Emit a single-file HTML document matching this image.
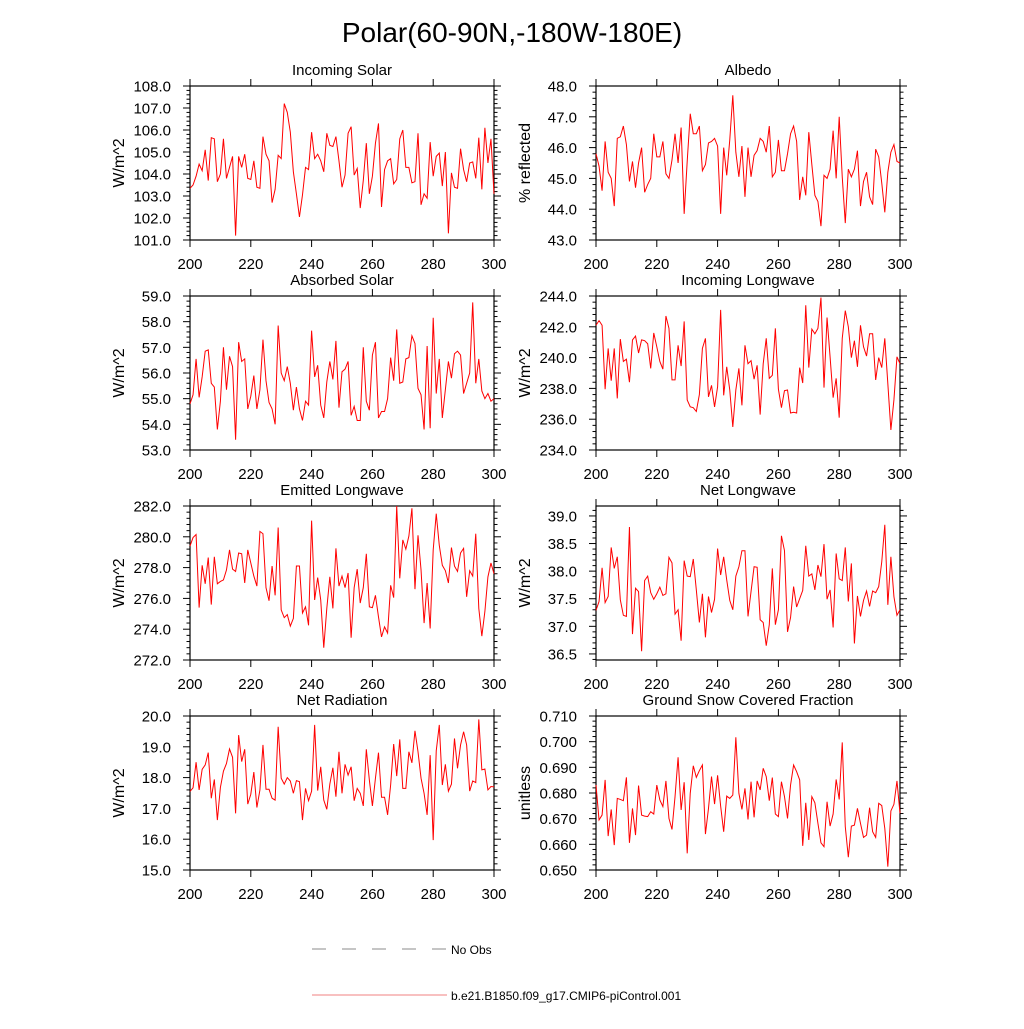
<!DOCTYPE html>
<html><head><meta charset="utf-8"><style>
html,body{margin:0;padding:0;background:#fff;}
svg text{font-family:"Liberation Sans",sans-serif;fill:#000;}
</style></head><body>
<svg id="chart" width="1024" height="1024" viewBox="0 0 1024 1024" xmlns="http://www.w3.org/2000/svg">
<rect width="1024" height="1024" fill="#fff"/>
<text x="512" y="42" font-size="28" text-anchor="middle">Polar(60-90N,-180W-180E)</text>
<g>
<line x1="312" y1="949" x2="447" y2="949" stroke="#666" stroke-width="0.8" stroke-dasharray="14,16"/>
<text x="451" y="954" font-size="12">No Obs</text>
<line x1="312" y1="995" x2="447" y2="995" stroke="#f08080" stroke-width="1"/>
<text x="451" y="1000" font-size="12">b.e21.B1850.f09_g17.CMIP6-piControl.001</text>
</g>
</svg>
<script>
const years = [];
for (let y = 200; y <= 300; y++) years.push(y);
const xTicks = [200, 220, 240, 260, 280, 300];

const incomingSolar = [103.35,103.5,103.9,104.45,104.15,105.1,103.7,105.65,105.6,103.65,104.0,105.6,103.8,104.3,104.8,101.2,104.8,104.3,104.9,103.8,103.75,104.6,103.4,103.35,105.7,104.9,104.6,102.7,103.3,104.85,104.7,107.2,106.8,105.9,104.1,103.1,102.05,103.05,104.3,104.2,105.9,104.7,104.9,104.6,104.1,105.85,105.3,105.25,105.7,104.6,103.4,103.95,105.85,106.15,103.95,104.25,102.45,103.7,105.4,103.1,103.9,105.4,106.3,102.5,104.2,104.6,104.7,103.55,103.75,105.6,106.0,104.3,104.3,103.6,103.65,105.85,102.6,103.1,102.9,105.45,103.9,104.8,104.95,103.45,105.0,101.3,104.05,103.4,103.35,105.15,104.2,103.65,104.5,104.55,103.8,105.65,103.3,106.1,104.5,105.6,103.1];
const albedo = [45.8,45.4,44.6,46.2,45.2,45.0,44.1,46.3,46.35,46.7,46.1,44.9,45.55,44.7,45.5,46.0,44.55,44.8,45.0,46.45,45.7,45.7,46.2,45.15,45.0,45.6,46.45,45.5,46.65,43.85,45.55,47.1,46.45,46.45,46.7,45.25,45.45,46.15,46.2,46.3,46.05,43.85,46.0,45.1,46.25,47.7,45.85,45.05,46.05,44.4,46.0,45.05,45.75,45.9,46.3,46.2,45.85,46.7,45.05,45.2,46.25,45.25,45.25,45.8,46.45,46.7,46.2,44.3,45.05,44.45,46.5,45.45,44.45,44.25,43.45,45.1,45.0,45.3,46.55,45.0,47.0,45.05,43.55,45.3,45.05,45.3,45.9,44.1,44.9,45.2,44.4,44.15,45.95,45.7,44.85,43.9,45.2,45.85,46.1,45.55,45.5];
const absorbedSolar = [54.8,55.15,56.55,55.05,55.85,56.85,56.9,55.6,55.45,53.8,54.9,57.0,55.35,56.65,56.25,53.4,57.2,56.45,56.55,54.6,55.1,55.9,54.6,55.35,57.3,55.7,54.85,54.6,54.0,57.85,56.0,55.7,56.25,55.6,54.55,55.45,54.6,54.15,54.9,54.75,57.65,55.85,56.3,54.75,54.25,55.65,56.45,55.75,57.25,54.65,56.05,56.15,56.45,54.35,54.7,54.15,54.15,57.0,54.9,54.55,56.7,57.2,54.25,54.5,54.5,55.0,56.6,55.7,57.7,55.6,55.65,56.55,56.6,57.45,57.15,55.4,55.15,53.8,57.05,53.85,58.15,55.2,56.55,54.25,55.35,56.45,55.8,56.75,56.85,56.7,55.2,55.6,56.0,58.75,55.6,56.55,55.3,55.0,55.2,54.9,55.0];
const incomingLongwave = [242.1,242.4,242.1,237.95,240.6,238.5,240.6,237.35,241.2,239.75,239.9,238.4,241.15,241.4,240.3,241.15,241.1,240.9,239.3,241.6,240.7,239.75,239.25,242.7,241.9,238.55,238.55,240.8,239.45,242.35,237.25,236.8,236.75,236.5,237.6,240.6,241.25,237.45,238.2,236.8,238.1,243.1,237.55,239.4,237.9,235.5,237.9,239.3,236.9,240.8,239.6,239.8,238.6,239.5,236.3,239.6,241.25,238.65,238.85,241.9,237.95,236.75,237.85,237.9,236.4,236.45,236.4,239.35,238.35,243.4,239.35,241.85,241.55,241.9,243.9,238.05,242.6,240.05,237.4,238.65,236.1,241.25,243.05,242.0,240.0,241.1,239.4,242.1,240.7,240.1,241.55,241.55,238.55,240.0,239.35,241.25,238.3,235.3,237.25,240.05,239.6];
const emittedLongwave = [279.4,279.95,280.15,275.4,278.15,276.95,278.65,275.6,278.7,276.95,277.1,277.2,277.85,279.15,277.9,277.75,278.95,278.9,277.0,279.15,278.3,277.45,276.8,280.35,280.2,276.7,275.85,278.1,276.2,280.6,275.25,274.75,274.95,274.2,274.7,278.1,278.1,275.05,275.45,274.25,281.05,275.9,277.35,275.9,272.8,275.35,277.4,275.35,279.25,276.8,277.45,276.7,277.65,273.45,276.7,277.9,275.7,276.7,278.9,275.45,275.4,276.2,274.8,273.5,274.15,273.75,276.85,276.05,282.0,277.3,279.8,279.2,280.05,281.85,276.6,280.1,277.85,274.4,277.0,274.05,279.15,281.5,279.45,278.15,277.8,277.0,279.3,278.1,277.75,278.95,279.25,276.1,277.8,277.45,280.2,275.35,273.55,275.15,277.4,278.3,277.6];
const netLongwave = [37.29,37.45,38.06,37.43,37.54,38.43,38.05,38.26,37.48,37.2,37.18,38.8,36.86,37.69,37.63,36.55,37.83,37.91,37.61,37.49,37.59,37.71,37.56,37.59,38.25,38.15,37.22,37.3,36.74,38.19,37.91,37.9,38.22,37.66,37.07,37.59,36.8,37.54,37.25,37.49,38.41,37.93,38.26,37.84,37.47,37.3,37.91,38.08,38.37,38.37,37.18,37.63,38.08,38.07,37.12,37.07,36.65,37.03,38.05,37.03,37.3,38.64,38.37,36.9,37.16,37.72,37.35,37.5,37.65,38.46,37.91,37.95,37.66,38.11,37.9,38.49,37.49,37.66,36.98,38.32,37.86,37.83,38.43,37.45,38.14,36.69,37.55,37.18,37.47,37.64,37.36,37.64,37.61,37.72,38.17,38.84,37.39,38.26,37.54,37.2,37.3];
const netRadiation = [17.55,17.67,18.5,17.6,18.27,18.41,18.81,17.33,17.94,16.62,17.68,18.21,18.46,18.93,18.66,16.84,19.38,18.52,18.92,17.14,17.46,18.18,17.03,17.6,19.06,17.62,17.62,17.33,17.27,19.65,17.98,17.79,18.0,17.89,17.49,17.9,17.87,16.62,17.65,17.25,17.56,19.71,17.58,18.35,17.27,16.97,17.79,18.32,17.38,18.84,17.49,18.43,18.08,18.35,17.25,17.65,17.49,17.08,18.92,17.92,17.08,17.98,18.81,17.36,17.36,16.79,17.76,19.09,18.05,19.24,17.65,17.65,18.84,18.48,19.52,18.84,17.98,17.49,16.79,18.73,15.97,18.87,19.71,17.76,18.43,17.56,17.79,19.27,18.3,19.06,19.49,19.06,17.56,17.89,17.84,19.89,18.25,18.28,17.6,17.71,17.7];
const snowFraction = [0.6831,0.6695,0.6714,0.6851,0.6632,0.6736,0.6597,0.6779,0.6775,0.677,0.6861,0.6606,0.674,0.6636,0.6829,0.6714,0.671,0.6708,0.6727,0.6718,0.6831,0.6773,0.6747,0.6847,0.6701,0.6658,0.6786,0.6939,0.6734,0.6842,0.6565,0.6799,0.6906,0.6861,0.6887,0.6909,0.664,0.674,0.6864,0.6757,0.6869,0.6749,0.6649,0.6788,0.6779,0.6792,0.7017,0.6799,0.6736,0.6818,0.6697,0.6844,0.6705,0.6847,0.6812,0.6896,0.6864,0.677,0.686,0.6718,0.6708,0.6844,0.6786,0.6701,0.6831,0.6909,0.6883,0.6851,0.6594,0.6762,0.6617,0.6786,0.6762,0.6682,0.6606,0.6591,0.6766,0.6671,0.6718,0.6853,0.6775,0.6997,0.6669,0.655,0.6671,0.6675,0.674,0.6682,0.6627,0.6636,0.6743,0.6649,0.6627,0.676,0.6751,0.6662,0.6513,0.673,0.6756,0.6847,0.6721];

const panelTitles = ["Incoming Solar","Albedo","Absorbed Solar","Incoming Longwave","Emitted Longwave","Net Longwave","Net Radiation","Ground Snow Covered Fraction"];
const yLabels = ["W/m^2","% reflected","W/m^2","W/m^2","W/m^2","W/m^2","W/m^2","unitless"];
const yMins = [101,43,53,234,272,36.39,15,0.65];
const yMaxs = [108,48,59,244,282,39.18,20,0.71];
const yMajor = [1,1,1,2,2,0.5,1,0.01];
const yDecimals = [1,1,1,1,1,1,1,3];
const allSeries = [incomingSolar,albedo,absorbedSolar,incomingLongwave,emittedLongwave,netLongwave,netRadiation,snowFraction];

const NS = "http://www.w3.org/2000/svg";
const svg = document.getElementById("chart");
function mk(tag, attrs, parent) {
  const e = document.createElementNS(NS, tag);
  for (const k in attrs) e.setAttribute(k, attrs[k]);
  parent.appendChild(e);
  return e;
}
const colX = [190, 596], rowY = [86, 296, 506, 716], W = 304, H = 154;

for (let p = 0; p < 8; p++) {
  const x0 = colX[p % 2], y0 = rowY[Math.floor(p / 2)];
  const g = mk("g", {}, svg);
  
  
  const xs = v => x0 + (v - 200) / 100 * W;
  const ys = v => y0 + H - (v - yMins[p]) / (yMaxs[p] - yMins[p]) * H;

  const t = mk("text", {x: x0 + W / 2, y: y0 - 11, "font-size": 15, "text-anchor": "middle"}, g);
  t.textContent = panelTitles[p];
  
  

  const yl = mk("text", {x: 0, y: 0, "font-size": 16, "text-anchor": "middle", transform: `translate(${x0 - 66},${y0 + H / 2}) rotate(-90)`}, g);
  yl.textContent = yLabels[p];
  
  

  xTicks.forEach(v => {
    const X = xs(v);
    mk("line", {x1: X, y1: y0 + H, x2: X, y2: y0 + H + 7, stroke: "#000"}, g);
    mk("line", {x1: X, y1: y0, x2: X, y2: y0 - 7, stroke: "#000"}, g);
    const tl = mk("text", {x: X, y: y0 + H + 29, "font-size": 15, "text-anchor": "middle"}, g);
    tl.textContent = v;
    
    
  });
  const mj = yMajor[p], mn = mj / 5;
  const startMinor = Math.ceil(yMins[p] / mn - 1e-6);
  for (let k = startMinor; k * mn <= yMaxs[p] + 1e-9; k++) {
    const v = k * mn, Y = ys(v);
    const isMaj = Math.abs(v / mj - Math.round(v / mj)) < 1e-6;
    const len = isMaj ? 7 : 3.5;
    mk("line", {x1: x0, y1: Y, x2: x0 - len, y2: Y, stroke: "#000"}, g);
    mk("line", {x1: x0 + W, y1: Y, x2: x0 + W + len, y2: Y, stroke: "#000"}, g);
    if (isMaj) {
      const tl = mk("text", {x: x0 - 19, y: Y + 5.5, "font-size": 15, "text-anchor": "end"}, g);
      tl.textContent = v.toFixed(yDecimals[p]);
      
      
    }
  }
  const box = mk("rect", {x: x0, y: y0, width: W, height: H, fill: "none", stroke: "#000", "stroke-width": 1.2}, g);
  
  

  const d = allSeries[p].map((v, i) => (i ? "L" : "M") + xs(years[i]).toFixed(2) + "," + ys(v).toFixed(2)).join("");
  const line = mk("path", {d: d, fill: "none", stroke: "#ff0000", "stroke-width": 1}, g);
  
  
}
</script>
</body></html>
